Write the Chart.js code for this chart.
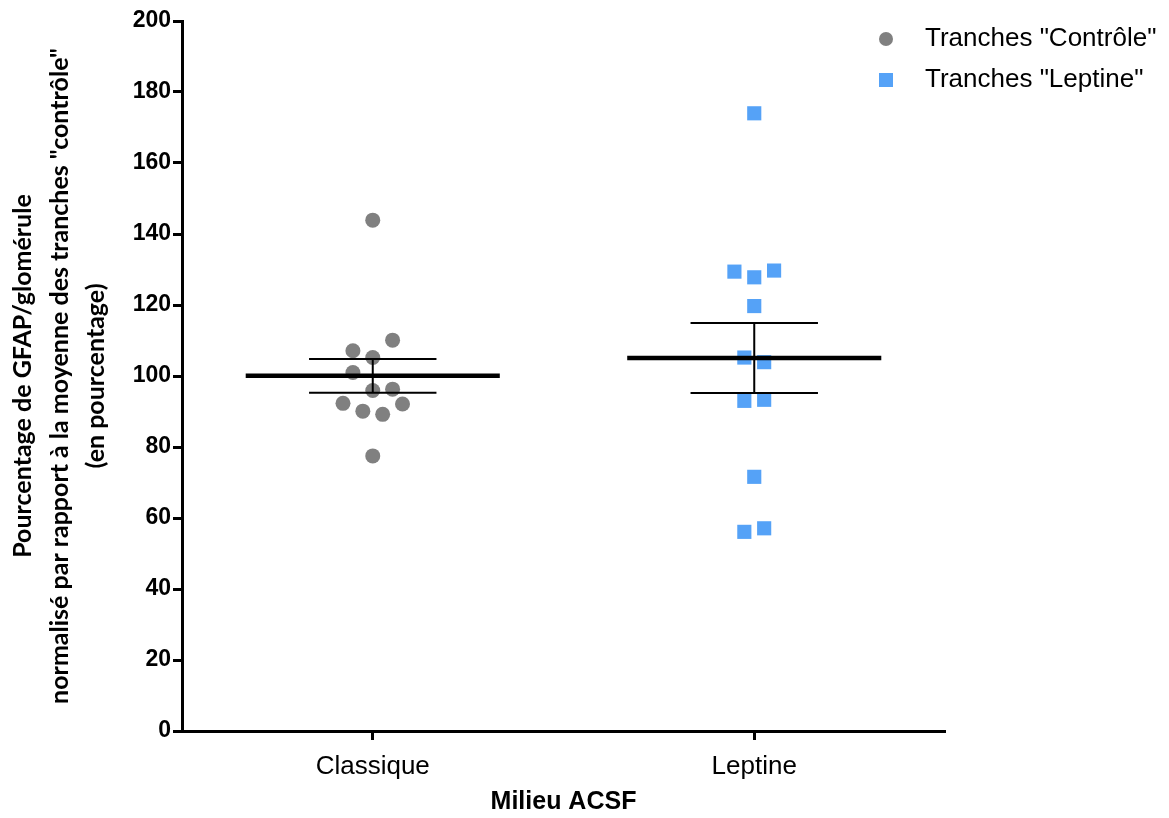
<!DOCTYPE html>
<html>
<head>
<meta charset="utf-8">
<script src="https://cdn.jsdelivr.net/npm/chart.js@4.4.0/dist/chart.umd.min.js"></script>
<style>
  html, body { margin: 0; padding: 0; background: #fff; }
  #wrap { width: 1169px; height: 818px; }
</style>
</head>
<body>
<div id="wrap"><canvas id="scatterChart" width="1169" height="818"></canvas></div>
<script>
// categories and series
const categories = ['Classique', 'Leptine'];
const seriesLabels = ['Tranches "Contrôle"', 'Tranches "Leptine"'];

// values (percent of control mean)
const controlValues = [143.9, 110.1, 107.1, 105.2, 101.0, 95.9, 96.3, 92.3, 92.1, 90.1, 89.2, 77.5];
const leptineValues = [174.0, 129.4, 127.8, 129.7, 119.7, 105.2, 103.9, 93.0, 93.3, 71.6, 56.1, 57.1];

// beeswarm slot of each point (so overlapping points sit side by side)
const controlSlots = [0, 1, -1, 0, -1, 0, 1, -1.5, 1.5, -0.5, 0.5, 0];
const leptineSlots = [0, -1, 0, 1, 0, -0.5, 0.5, -0.5, 0.5, 0, -0.5, 0.5];

const yTicks = [0, 20, 40, 60, 80, 100, 120, 140, 160, 180, 200];

const slotWidth = 0.052;
const fontFamily = '"Liberation Sans", Arial, sans-serif';

function toPoints(pos, values, slots) {
    return values.map((v, i) => ({ x: pos + slots[i] * slotWidth, y: v }));
}

function meanSem(values) {
    const n = values.length;
    const m = values.reduce((a, b) => a + b, 0) / n;
    const sd = Math.sqrt(values.reduce((a, b) => a + (b - m) * (b - m), 0) / (n - 1));
    return { mean: m, sem: sd / Math.sqrt(n) };
}

// mean line + SEM bars drawn over the points
const meanBars = {
    id: 'meanBars',
    afterDatasetsDraw(chart) {
        const { ctx, scales: { x, y } } = chart;
        [controlValues, leptineValues].forEach((vals, i) => {
            const pos = i + 1;
            const s = meanSem(vals);
            const yMean = y.getPixelForValue(s.mean);
            const yHi = y.getPixelForValue(s.mean + s.sem);
            const yLo = y.getPixelForValue(s.mean - s.sem);
            const xc = x.getPixelForValue(pos);
            ctx.save();
            ctx.strokeStyle = '#000';
            ctx.lineWidth = 2;
            ctx.beginPath();
            ctx.moveTo(xc, yHi); ctx.lineTo(xc, yLo);
            ctx.moveTo(x.getPixelForValue(pos - 0.167), yHi); ctx.lineTo(x.getPixelForValue(pos + 0.167), yHi);
            ctx.moveTo(x.getPixelForValue(pos - 0.167), yLo); ctx.lineTo(x.getPixelForValue(pos + 0.167), yLo);
            ctx.stroke();
            ctx.lineWidth = 4.5;
            ctx.beginPath();
            ctx.moveTo(x.getPixelForValue(pos - 0.333), yMean);
            ctx.lineTo(x.getPixelForValue(pos + 0.333), yMean);
            ctx.stroke();
            ctx.restore();
        });
    }
};

// legend in the top right corner, outside the plot
const cornerLegend = {
    id: 'cornerLegend',
    afterDraw(chart) {
        const { ctx } = chart;
        ctx.save();
        ctx.font = '26px ' + fontFamily;
        ctx.textBaseline = 'middle';
        chart.data.datasets.forEach((ds, i) => {
            const cy = 39 + i * 41;
            ctx.fillStyle = ds.backgroundColor;
            if (ds.pointStyle === 'rect') {
                ctx.fillRect(879, cy - 7, 14, 14);
            } else {
                ctx.beginPath();
                ctx.arc(886, cy, 7, 0, Math.PI * 2);
                ctx.fill();
            }
            ctx.fillStyle = '#000';
            ctx.fillText(ds.label, 925, cy);
        });
        ctx.restore();
    }
};

const ctx = document.getElementById('scatterChart').getContext('2d');
new Chart(ctx, {
    type: 'scatter',
    data: {
        datasets: [
            {
                label: seriesLabels[0],
                data: toPoints(1, controlValues, controlSlots),
                backgroundColor: '#808080',
                borderWidth: 0,
                pointStyle: 'circle',
                pointRadius: 7.5
            },
            {
                label: seriesLabels[1],
                data: toPoints(2, leptineValues, leptineSlots),
                backgroundColor: '#55a2f7',
                borderWidth: 0,
                pointStyle: 'rect',
                pointRadius: 10
            }
        ]
    },
    options: {
        responsive: false,
        animation: false,
        layout: { padding: { left: 0, right: 224, top: 21, bottom: 0 } },
        plugins: {
            legend: { display: false },
            tooltip: { enabled: false }
        },
        scales: {
            x: {
                type: 'linear',
                min: 0.5,
                max: 2.5,
                afterBuildTicks: (scale) => { scale.ticks = [{ value: 1 }, { value: 2 }]; },
                afterFit: (scale) => { scale.height = 87; },
                grid: { drawOnChartArea: false, drawTicks: true, tickLength: 9, tickWidth: 3, tickColor: '#000' },
                border: { display: true, color: '#000', width: 3 },
                ticks: {
                    color: '#000',
                    padding: 11,
                    font: { family: fontFamily, size: 26 },
                    callback: (v) => categories[v - 1]
                },
                title: {
                    display: true,
                    text: 'Milieu ACSF',
                    color: '#000',
                    padding: { top: 0, bottom: 1 },
                    font: { family: fontFamily, size: 25, weight: 'bold', lineHeight: 1.2 }
                }
            },
            y: {
                min: 0,
                max: 200,
                afterBuildTicks: (scale) => { scale.ticks = yTicks.map(v => ({ value: v })); },
                afterFit: (scale) => { scale.width = 182; },
                grid: { drawOnChartArea: false, drawTicks: true, tickLength: 9, tickWidth: 3, tickColor: '#000' },
                border: { display: true, color: '#000', width: 3 },
                ticks: {
                    color: '#000',
                    padding: 2,
                    font: { family: fontFamily, size: 23, weight: 'bold' }
                },
                title: {
                    display: true,
                    text: [
                        'Pourcentage de GFAP/glomérule',
                        'normalisé par rapport à la moyenne des tranches "contrôle"',
                        '(en pourcentage)'
                    ],
                    color: '#000',
                    padding: { top: 5, bottom: 0 },
                    font: { family: 'Lato, "Open Sans", sans-serif', size: 25, weight: 'bold', lineHeight: 1.46 }
                }
            }
        }
    },
    plugins: [meanBars, cornerLegend]
});
</script>
</body>
</html>
